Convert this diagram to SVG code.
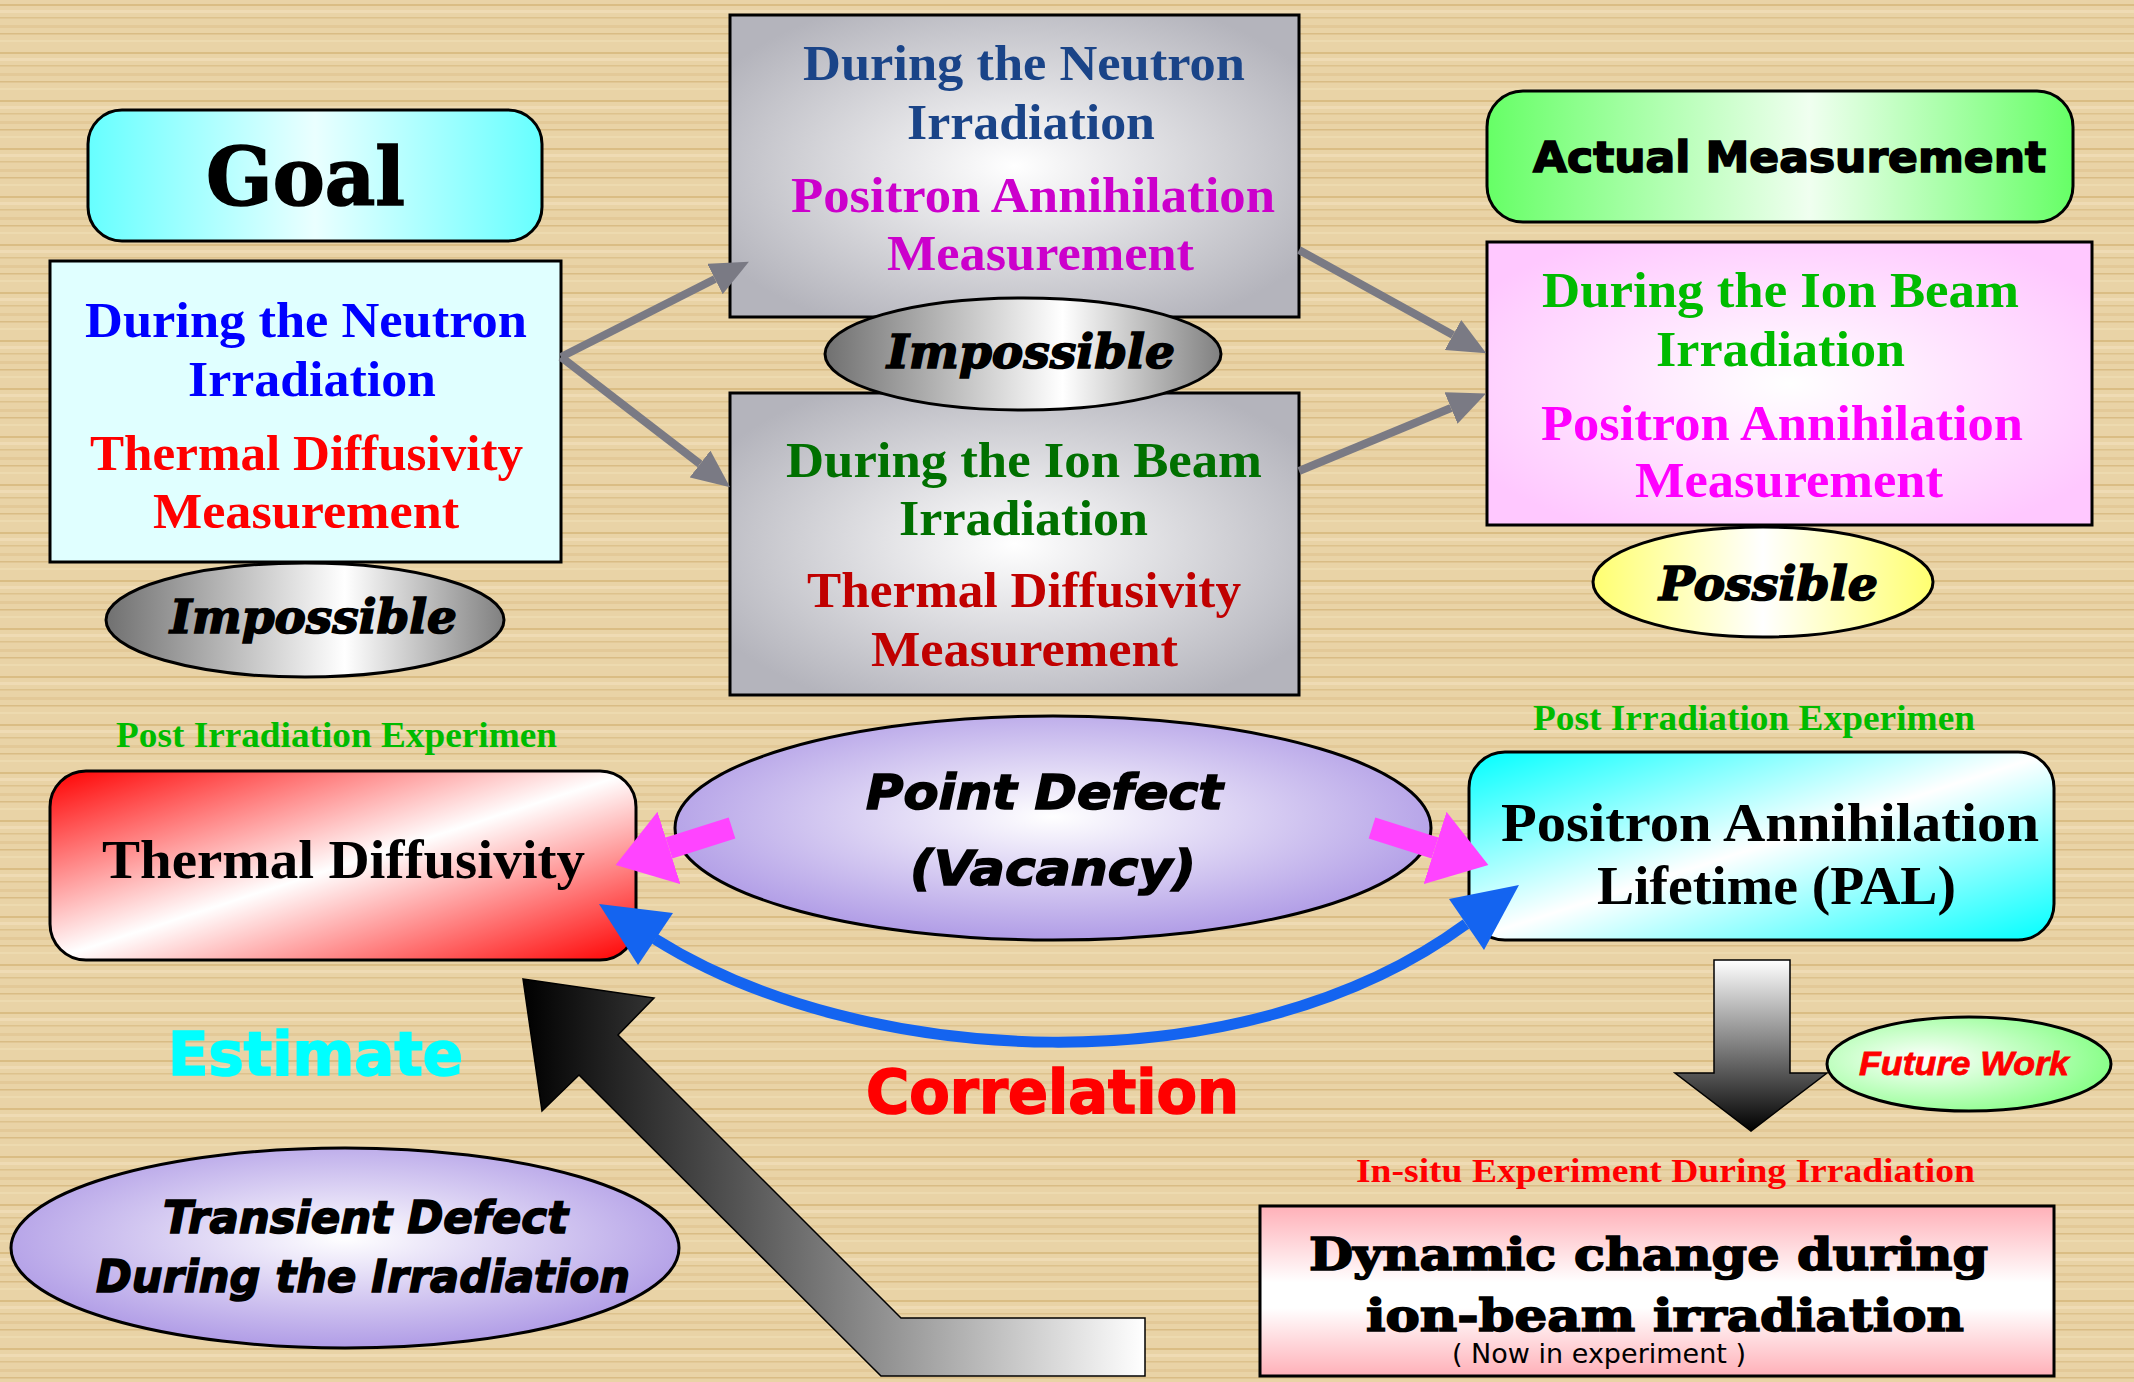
<svg xmlns="http://www.w3.org/2000/svg" width="2134" height="1382" viewBox="0 0 2134 1382">
<defs>
  <pattern id="wood" x="0" y="0" width="400" height="48" patternUnits="userSpaceOnUse">
    <rect width="400" height="48" fill="#e9d3a6"/>
    <rect y="4" width="400" height="2" fill="#dabd84"/>
    <rect y="10" width="400" height="3" fill="#efdbb4"/>
    <rect y="17" width="400" height="1.5" fill="#ddc28d"/>
    <rect y="25" width="400" height="3" fill="#e3c998"/>
    <rect y="33" width="400" height="1.5" fill="#d9bc85"/>
    <rect y="40" width="400" height="2" fill="#eddaaf"/>
  </pattern>
  <linearGradient id="gCyanH" x1="0" y1="0" x2="1" y2="0">
    <stop offset="0" stop-color="#66ffff"/><stop offset="0.5" stop-color="#eaffff"/><stop offset="1" stop-color="#66ffff"/>
  </linearGradient>
  <linearGradient id="gGreenH" x1="0" y1="0" x2="1" y2="0">
    <stop offset="0" stop-color="#66ff66"/><stop offset="0.55" stop-color="#f0fff0"/><stop offset="1" stop-color="#66ff66"/>
  </linearGradient>
  <linearGradient id="gYellowH" x1="0" y1="0" x2="1" y2="0">
    <stop offset="0" stop-color="#ffff70"/><stop offset="0.5" stop-color="#ffffff"/><stop offset="1" stop-color="#ffff70"/>
  </linearGradient>
  <linearGradient id="gGrayH" x1="0" y1="0" x2="1" y2="0">
    <stop offset="0" stop-color="#707070"/><stop offset="0.6" stop-color="#ffffff"/><stop offset="1" stop-color="#808080"/>
  </linearGradient>
  <radialGradient id="gGrayR" cx="0.5" cy="0.5" r="0.6">
    <stop offset="0" stop-color="#ffffff"/><stop offset="1" stop-color="#b4b4bc"/>
  </radialGradient>
  <radialGradient id="gPinkR" cx="0.5" cy="0.5" r="0.6">
    <stop offset="0" stop-color="#ffffff"/><stop offset="1" stop-color="#ffc8ff"/>
  </radialGradient>
  <radialGradient id="gLav" cx="0.5" cy="0.45" r="0.55">
    <stop offset="0" stop-color="#ffffff"/><stop offset="1" stop-color="#b09ce6"/>
  </radialGradient>
  <radialGradient id="gFuture" cx="0.35" cy="0.45" r="0.7">
    <stop offset="0" stop-color="#ffffff"/><stop offset="1" stop-color="#80ff80"/>
  </radialGradient>
  <linearGradient id="gRedD" x1="0" y1="0" x2="1" y2="1">
    <stop offset="0" stop-color="#ff0000"/><stop offset="0.5" stop-color="#ffffff"/><stop offset="1" stop-color="#ff0000"/>
  </linearGradient>
  <linearGradient id="gCyanD" x1="0" y1="0" x2="1" y2="1">
    <stop offset="0" stop-color="#00ffff"/><stop offset="0.5" stop-color="#ffffff"/><stop offset="1" stop-color="#00ffff"/>
  </linearGradient>
  <linearGradient id="gPinkV" x1="0" y1="0" x2="0" y2="1">
    <stop offset="0" stop-color="#ffb0b8"/><stop offset="0.45" stop-color="#ffffff"/><stop offset="0.6" stop-color="#ffffff"/><stop offset="1" stop-color="#ffb0b8"/>
  </linearGradient>
  <linearGradient id="gBigArrow" x1="523" y1="0" x2="1145" y2="0" gradientUnits="userSpaceOnUse">
    <stop offset="0" stop-color="#000000"/><stop offset="0.35" stop-color="#555555"/><stop offset="1" stop-color="#ffffff"/>
  </linearGradient>
  <linearGradient id="gDownArrow" x1="0" y1="960" x2="0" y2="1131" gradientUnits="userSpaceOnUse">
    <stop offset="0" stop-color="#ffffff"/><stop offset="1" stop-color="#000000"/>
  </linearGradient>
  <marker id="grayHead" viewBox="0 0 38 34" refX="0" refY="17" markerUnits="userSpaceOnUse" markerWidth="38" markerHeight="34" orient="auto">
    <path d="M0,0 L38,17 L0,34 z" fill="#7a7a84"/>
  </marker>
  <marker id="magHead" viewBox="0 0 56 76" refX="0" refY="38" markerUnits="userSpaceOnUse" markerWidth="56" markerHeight="76" orient="auto">
    <path d="M0,0 L56,38 L0,76 z" fill="#ff44ff"/>
  </marker>
  <style>
    .bx { stroke: #000; stroke-width: 3; }
    .sb { font-family: "Liberation Serif", "Times New Roman", serif; font-weight: bold; }
    .ds { font-family: "DejaVu Serif", serif; font-weight: bold; }
    .dsi { font-family: "DejaVu Serif", serif; font-weight: bold; font-style: italic; stroke: #000; stroke-width: 1.6; }
    .gs { font-family: "DejaVu Sans", sans-serif; font-weight: bold; }
    .gsi { font-family: "DejaVu Sans", sans-serif; font-weight: bold; font-style: italic; }
    .heavy { stroke-width: 1.6; }
    .conn { stroke: #7a7a84; stroke-width: 8; fill: none; }
  </style>
</defs>

<rect width="2134" height="1382" fill="url(#wood)"/>

<g id="goal">
  <rect x="88" y="110" width="454" height="131" rx="34" fill="url(#gCyanH)" class="bx"/>
  <text x="206" y="205" class="ds heavy" font-size="80" stroke="#000" textLength="199" lengthAdjust="spacingAndGlyphs">Goal</text>
</g>

<g id="goal-box">
  <rect x="50" y="261" width="511" height="301" fill="#e0ffff" class="bx"/>
  <text x="85" y="337" class="sb" font-size="50" fill="#0000ff" textLength="442" lengthAdjust="spacingAndGlyphs">During the Neutron</text>
  <text x="188" y="396" class="sb" font-size="50" fill="#0000ff" textLength="248" lengthAdjust="spacingAndGlyphs">Irradiation</text>
  <text x="90" y="470" class="sb" font-size="50" fill="#ff0000" textLength="433" lengthAdjust="spacingAndGlyphs">Thermal Diffusivity</text>
  <text x="153" y="528" class="sb" font-size="50" fill="#ff0000" textLength="306" lengthAdjust="spacingAndGlyphs">Measurement</text>
</g>

<g id="impossible-left">
  <ellipse cx="305" cy="620" rx="199" ry="57" fill="url(#gGrayH)" class="bx"/>
  <text x="170" y="633" class="dsi" font-size="46" textLength="287" lengthAdjust="spacingAndGlyphs">Impossible</text>
</g>

<g id="neutron-pa-box">
  <rect x="730" y="15" width="569" height="302" fill="url(#gGrayR)" class="bx"/>
  <text x="803" y="80" class="sb" font-size="50" fill="#1a4488" textLength="442" lengthAdjust="spacingAndGlyphs">During the Neutron</text>
  <text x="907" y="139" class="sb" font-size="50" fill="#1a4488" textLength="248" lengthAdjust="spacingAndGlyphs">Irradiation</text>
  <text x="791" y="212" class="sb" font-size="50" fill="#cc00cc" textLength="484" lengthAdjust="spacingAndGlyphs">Positron Annihilation</text>
  <text x="887" y="270" class="sb" font-size="50" fill="#cc00cc" textLength="307" lengthAdjust="spacingAndGlyphs">Measurement</text>
</g>

<g id="ion-td-box">
  <rect x="730" y="393" width="569" height="302" fill="url(#gGrayR)" class="bx"/>
  <text x="786" y="477" class="sb" font-size="50" fill="#007000" textLength="476" lengthAdjust="spacingAndGlyphs">During the Ion Beam</text>
  <text x="899" y="535" class="sb" font-size="50" fill="#007000" textLength="249" lengthAdjust="spacingAndGlyphs">Irradiation</text>
  <text x="807" y="607" class="sb" font-size="50" fill="#c00000" textLength="434" lengthAdjust="spacingAndGlyphs">Thermal Diffusivity</text>
  <text x="871" y="666" class="sb" font-size="50" fill="#c00000" textLength="307" lengthAdjust="spacingAndGlyphs">Measurement</text>
</g>

<g id="impossible-mid">
  <ellipse cx="1023" cy="354" rx="198" ry="56" fill="url(#gGrayH)" class="bx"/>
  <text x="887" y="368" class="dsi" font-size="46" textLength="288" lengthAdjust="spacingAndGlyphs">Impossible</text>
</g>

<g id="actual">
  <rect x="1487" y="91" width="586" height="131" rx="36" fill="url(#gGreenH)" class="bx"/>
  <text x="1533" y="172" class="gs heavy" stroke="#000" font-size="43" textLength="513" lengthAdjust="spacingAndGlyphs">Actual Measurement</text>
</g>

<g id="ion-pa-box">
  <rect x="1487" y="242" width="605" height="283" fill="url(#gPinkR)" class="bx"/>
  <text x="1542" y="307" class="sb" font-size="50" fill="#00bb00" textLength="477" lengthAdjust="spacingAndGlyphs">During the Ion Beam</text>
  <text x="1656" y="366" class="sb" font-size="50" fill="#00bb00" textLength="249" lengthAdjust="spacingAndGlyphs">Irradiation</text>
  <text x="1541" y="440" class="sb" font-size="50" fill="#ff00ff" textLength="482" lengthAdjust="spacingAndGlyphs">Positron Annihilation</text>
  <text x="1635" y="497" class="sb" font-size="50" fill="#ff00ff" textLength="308" lengthAdjust="spacingAndGlyphs">Measurement</text>
</g>

<g id="possible">
  <ellipse cx="1763" cy="582" rx="170" ry="55" fill="url(#gYellowH)" class="bx"/>
  <text x="1659" y="600" class="dsi" font-size="46" textLength="219" lengthAdjust="spacingAndGlyphs">Possible</text>
</g>

<g id="thermal-diffusivity">
  <text x="116" y="747" class="sb" font-size="36" fill="#00bb00" textLength="441" lengthAdjust="spacingAndGlyphs">Post Irradiation Experimen</text>
  <rect x="50" y="771" width="586" height="189" rx="36" fill="url(#gRedD)" class="bx"/>
  <text x="102" y="878" class="sb" font-size="54" fill="#000" textLength="483" lengthAdjust="spacingAndGlyphs">Thermal Diffusivity</text>
</g>

<g id="point-defect">
  <ellipse cx="1053" cy="828" rx="378" ry="112" fill="url(#gLav)" class="bx"/>
  <text x="866" y="809" class="gsi heavy" stroke="#000" font-size="48" textLength="357" lengthAdjust="spacingAndGlyphs">Point Defect</text>
  <text x="910" y="885" class="gsi heavy" stroke="#000" font-size="48" textLength="286" lengthAdjust="spacingAndGlyphs">(Vacancy)</text>
</g>

<g id="pal">
  <text x="1533" y="730" class="sb" font-size="36" fill="#00bb00" textLength="442" lengthAdjust="spacingAndGlyphs">Post Irradiation Experimen</text>
  <rect x="1469" y="752" width="585" height="188" rx="36" fill="url(#gCyanD)" class="bx"/>
  <text x="1501" y="841" class="sb" font-size="54" fill="#000" textLength="538" lengthAdjust="spacingAndGlyphs">Positron Annihilation</text>
  <text x="1597" y="904" class="sb" font-size="54" fill="#000" textLength="359" lengthAdjust="spacingAndGlyphs">Lifetime (PAL)</text>
</g>

<g id="transient-defect">
  <ellipse cx="345" cy="1248" rx="334" ry="100" fill="url(#gLav)" class="bx"/>
  <text x="163" y="1233" class="gsi heavy" stroke="#000" font-size="45" textLength="405" lengthAdjust="spacingAndGlyphs">Transient Defect</text>
  <text x="96" y="1292" class="gsi heavy" stroke="#000" font-size="45" textLength="534" lengthAdjust="spacingAndGlyphs">During the Irradiation</text>
</g>

<g id="future-work">
  <ellipse cx="1969" cy="1064" rx="142" ry="47" fill="url(#gFuture)" class="bx"/>
  <text x="1859" y="1075" font-family="Liberation Sans, Arial, sans-serif" font-weight="bold" font-style="italic" font-size="34" fill="#ff0000" stroke="#ff0000" stroke-width="0.8" textLength="210" lengthAdjust="spacingAndGlyphs">Future Work</text>
</g>

<g id="dynamic">
  <text x="1356" y="1182" class="sb" font-size="33" fill="#ff0000" textLength="619" lengthAdjust="spacingAndGlyphs">In-situ Experiment During Irradiation</text>
  <rect x="1260" y="1206" width="794" height="170" fill="url(#gPinkV)" class="bx"/>
  <text x="1309" y="1270" class="ds heavy" stroke="#000" font-size="44" fill="#000" textLength="679" lengthAdjust="spacingAndGlyphs">Dynamic change during</text>
  <text x="1366" y="1331" class="ds heavy" stroke="#000" font-size="44" fill="#000" textLength="598" lengthAdjust="spacingAndGlyphs">ion-beam irradiation</text>
  <text x="1452" y="1363" font-family="DejaVu Sans, sans-serif" font-size="27" fill="#000" textLength="294" lengthAdjust="spacingAndGlyphs">( Now in experiment )</text>
</g>

<g id="labels">
  <text x="168" y="1075" class="gs heavy" stroke="#00ffff" font-size="60" fill="#00ffff" textLength="295" lengthAdjust="spacingAndGlyphs">Estimate</text>
  <text x="866" y="1113" class="gs heavy" stroke="#ff0000" font-size="60" fill="#ff0000" textLength="373" lengthAdjust="spacingAndGlyphs">Correlation</text>
</g>

<g id="connectors">
  <line x1="561" y1="357" x2="715" y2="279" class="conn" marker-end="url(#grayHead)"/>
  <line x1="561" y1="357" x2="700" y2="464" class="conn" marker-end="url(#grayHead)"/>
  <line x1="1299" y1="250" x2="1453" y2="335" class="conn" marker-end="url(#grayHead)"/>
  <line x1="1299" y1="471" x2="1451" y2="408" class="conn" marker-end="url(#grayHead)"/>
  <line x1="732" y1="828" x2="669" y2="848" stroke="#ff44ff" stroke-width="22" marker-end="url(#magHead)"/>
  <line x1="1372" y1="828" x2="1435" y2="848" stroke="#ff44ff" stroke-width="22" marker-end="url(#magHead)"/>
  <path d="M655,939 C860,1068 1240,1090 1466,924" fill="none" stroke="#1464f0" stroke-width="11"/>
  <polygon points="599,904 673,913 638,965" fill="#1464f0"/>
  <polygon points="1519,885 1449,899 1484,950" fill="#1464f0"/>
  <polygon points="523,979 654,998 618,1035 901,1318 1145,1318 1145,1376 881,1376 579,1075 542,1111" fill="url(#gBigArrow)" stroke="#000" stroke-width="1.5"/>
  <polygon points="1714,960 1790,960 1790,1073 1827,1073 1751,1131 1675,1073 1714,1073" fill="url(#gDownArrow)" stroke="#000" stroke-width="1.5"/>
</g>
</svg>
